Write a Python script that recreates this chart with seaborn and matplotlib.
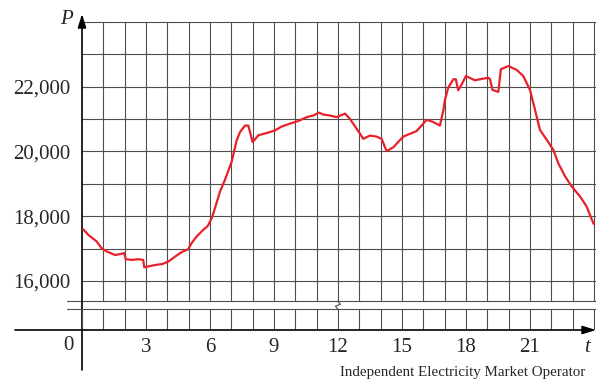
import matplotlib
matplotlib.use("Agg")
import matplotlib.pyplot as plt
import seaborn as sns
import pandas as pd

# ---- data (hours after midnight, power demand in MW) ----
hours = [0.05, 0.3, 0.69, 0.92, 1.16, 1.55, 1.86, 1.98, 2.05, 2.33, 2.64, 2.87,
         2.92, 3.19, 3.5, 3.76, 4.05, 4.36, 4.67, 4.98, 5.14, 5.37, 5.69, 5.9,
         6.08, 6.16, 6.47, 6.7, 7.02, 7.25, 7.41, 7.64, 7.8, 8.0, 8.27, 8.66,
         9.05, 9.36, 9.75, 10.14, 10.53, 10.84, 11.12, 11.31, 11.63, 11.94,
         12.33, 12.56, 12.88, 13.19, 13.5, 13.81, 14.05, 14.28, 14.6, 15.06,
         15.69, 16.16, 16.47, 16.78, 16.94, 17.02, 17.17, 17.41, 17.53, 17.64,
         17.8, 18.0, 18.42, 19.05, 19.13, 19.25, 19.52, 19.64, 19.99, 20.38,
         20.69, 21.0, 21.24, 21.47, 21.79, 22.1, 22.33, 22.65, 22.96, 23.35,
         23.66, 23.97, 24.0]
power = [17600, 17420, 17220, 17010, 16910, 16800, 16840, 16860, 16670, 16650,
         16670, 16650, 16420, 16460, 16500, 16520, 16600, 16750, 16890, 16980,
         17170, 17370, 17580, 17700, 17940, 18090, 18760, 19120, 19690, 20340,
         20600, 20800, 20800, 20290, 20500, 20570, 20650, 20770, 20860, 20940,
         21060, 21110, 21200, 21140, 21110, 21060, 21170, 21010, 20700, 20390,
         20490, 20460, 20390, 20010, 20130, 20460, 20630, 20980, 20910, 20800,
         21260, 21600, 21970, 22230, 22230, 21890, 22070, 22330, 22200, 22280,
         22230, 21900, 21840, 22540, 22640, 22520, 22330, 21910, 21290, 20670,
         20360, 20050, 19640, 19230, 18920, 18610, 18300, 17790, 17760]

x_ticks = [3, 6, 9, 12, 15, 18, 21]
y_ticks = [16000, 17000, 18000, 19000, 20000, 21000, 22000, 23000, 24000]
y_labels = ["16,000", "", "18,000", "", "20,000", "", "22,000", "", ""]
source = "Independent Electricity Market Operator"

df = pd.DataFrame({"t": hours, "P": power})

sns.set_style("white")
plt.rcParams["font.family"] = ["Liberation Serif", "DejaVu Serif"]

W, H = 596, 388
fig = plt.figure(figsize=(W / 100, H / 100), dpi=100)

def px_axes(x0, top, x1, bottom):
    return fig.add_axes([x0 / W, (H - bottom) / H, (x1 - x0) / W, (bottom - top) / H])

grid_kw = dict(color="#4d4d4d", lw=0.8)
xmax = 24.1
ybreak = 15380

# upper part of the broken axis
ax = px_axes(82, 22, 596, 301)
sns.lineplot(data=df, x="t", y="P", ax=ax, color="#e8202a", lw=1.6,
             estimator=None, sort=False, zorder=5)
ax.set_xlim(0, xmax)
ax.set_ylim(ybreak, 24000)
ax.set_xticks(range(1, 25))
ax.set_xticklabels([])
ax.set_yticks(y_ticks)
ax.set_yticklabels(y_labels, fontsize=15)
ax.tick_params(length=0, pad=8.5)
ax.grid(True, **grid_kw)
for ln in ax.get_xgridlines() + ax.get_ygridlines():
    ln.set_clip_on(False)
ax.set_xlabel("")
ax.set_ylabel("")
for s in ax.spines.values():
    s.set_visible(False)

# lower part (just above zero)
axb = px_axes(82, 309, 596, 330)
axb.set_xlim(0, xmax)
axb.set_ylim(0, 1)
axb.set_xticks(range(0, 25))
axb.set_xticklabels([str(h) if h in x_ticks else "" for h in range(0, 25)], fontsize=15)
axb.set_yticks([])
axb.tick_params(length=0, pad=6)
axb.grid(True, axis="x", **grid_kw)
for s in axb.spines.values():
    s.set_visible(False)

# break lines and squiggle at t = 12
ax.plot([-0.7, xmax], [ybreak, ybreak], clip_on=False, **grid_kw)
axb.plot([-0.7, xmax], [1, 1], clip_on=False, **grid_kw)
ax.plot([12, 12, 12.12, 11.88, 12.0], [ybreak, ybreak - 20, ybreak - 100, ybreak - 160, ybreak - 250],
        clip_on=False, **grid_kw)

# axes with arrow heads
arrow = dict(arrowstyle="-|>,head_length=0.8,head_width=0.25", color="black",
             lw=1.2, shrinkA=0, shrinkB=0)
ax.annotate("", xy=(0, (H - 14) / H), xytext=(0, (H - 370) / H),
            xycoords=("data", "figure fraction"), textcoords=("data", "figure fraction"),
            arrowprops=arrow, annotation_clip=False)
axb.annotate("", xy=(xmax, 0), xytext=(-3.14, 0), arrowprops=arrow, annotation_clip=False)

fig.text(66 / W, (H - 20) / H, "P", fontsize=15, style="italic", ha="center", va="center")
fig.text(584 / W, (H - 347) / H, "t", fontsize=15, style="italic", ha="left", va="center")
fig.text(68 / W, (H - 345) / H, "0", fontsize=15, ha="center", va="center")
fig.text(340 / W, (H - 376) / H, source, fontsize=10.8, ha="left", va="baseline")

fig.savefig("out.png", dpi=100)
